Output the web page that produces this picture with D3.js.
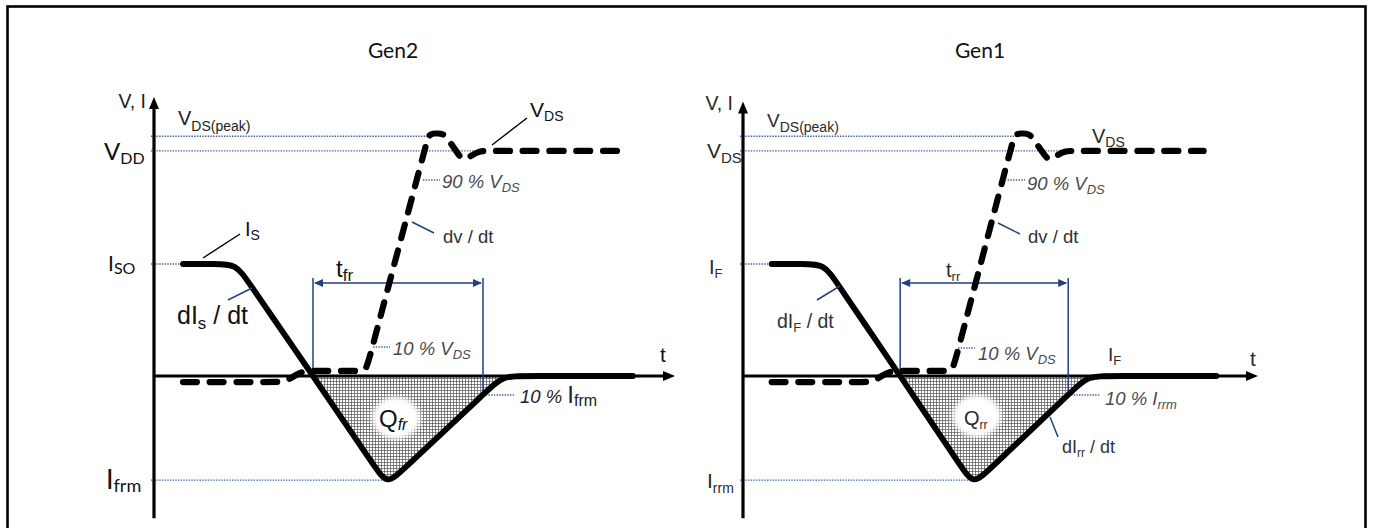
<!DOCTYPE html>
<html><head><meta charset="utf-8">
<script src="https://cdn.jsdelivr.net/npm/d3@7"></script>
<style>body{margin:0;background:#fff}svg{display:block}</style>
</head><body><svg id="c" width="1373" height="528"></svg>
<script>
// ---------------- data (normalised units: time t, level where I_SO / I_F = 1) ----------------
const panelNames = ["Gen2", "Gen1"];
const currentT = [2.9, 8.2, 15.9, 23.3, 34.9, 47.9];
const currentV = [1, 1, 0, -0.97, 0, 0];
const voltageT = [2.9, 13.0, 14.9, 21.2, 27.5, 29.0, 30.9, 32.5, 46.6];
const voltageV = [-0.054, -0.054, 0.045, 0.045, 2.165, 2.165, 1.92, 2.01, 2.01];
const levelValues = [2.14, 2.01, 1, -0.93];          // V_DS(peak), V_DD, I_SO, I_frm
const levelEndT = [27.9, 32.5, 2.9, 23.3];
const recoveryT = [15.9, 32.9];                      // t_fr / t_rr window
const tenPctLevel = -0.17;                           // 10 % I_frm point
const markerLevel = 0.83;                            // level of the t_fr arrow
const axisTop = [2.49, 2.45];
const axisBottom = -1.27;
const timeMax = 52.1;

// ---------------- setup ----------------
const svg = d3.select("#c");
const defs = svg.append("defs");
const pat = defs.append("pattern").attr("id", "hatch").attr("patternUnits", "userSpaceOnUse")
  .attr("width", 3).attr("height", 3);
pat.append("rect").attr("width", 3).attr("height", 3).attr("fill", "#fff");
pat.append("path").attr("d", "M0 0.4H3M0.4 0V3").attr("stroke", "#555").attr("stroke-width", 0.8);
const blur = defs.append("filter").attr("id", "soft").attr("x", "-50%").attr("y", "-50%").attr("width", "200%").attr("height", "200%");
blur.append("feGaussianBlur").attr("stdDeviation", 2.5);

svg.append("rect").attr("x", 7.5).attr("y", 6.5).attr("width", 1358).attr("height", 600)
  .attr("fill", "none").attr("stroke", "#000").attr("stroke-width", 2.6);

const ARIAL = "'Liberation Sans', Arial, sans-serif";
const CAL = "Lato, 'Open Sans', sans-serif";
const BLUE = "#223f7e";
const DOT = "#3f5e9e";

function txt(g, x, y, segs, o = {}) {
  const size = o.size || 18;
  const t = g.append("text").attr("x", x).attr("y", y)
    .attr("font-family", o.font || ARIAL).attr("font-size", size)
    .attr("fill", o.color || "#111").attr("text-anchor", o.anchor || "start");
  let shift = 0;
  segs.forEach(s => {
    if (typeof s === "string") s = { t: s };
    const target = s.s ? (o.subDy != null ? o.subDy : Math.round(size * 0.3)) : 0;
    const ts = t.append("tspan").text(s.t).attr("dy", target - shift)
      .attr("font-size", s.z || (s.s ? (o.subSize || Math.round(size * 0.68)) : size));
    const it = s.i != null ? s.i : o.italic;
    ts.attr("font-style", it ? "italic" : "normal");
    if (s.f) ts.attr("font-family", s.f);
    shift = target;
  });
  return t;
}
function seg(g, x1, y1, x2, y2, color, w, dash) {
  g.append("line").attr("x1", x1).attr("y1", y1).attr("x2", x2).attr("y2", y2)
    .attr("stroke", color).attr("stroke-width", w).attr("stroke-dasharray", dash || null);
}
function roundedPts(pts, r) {
  const out = [pts[0], pts[0]];
  for (let i = 1; i < pts.length - 1; i++) {
    const p = pts[i], a = pts[i - 1], b = pts[i + 1];
    const la = Math.hypot(p[0] - a[0], p[1] - a[1]), lb = Math.hypot(b[0] - p[0], b[1] - p[1]);
    const ra = Math.min(r, la / 2.05), rb = Math.min(r, lb / 2.05);
    out.push([p[0] + (a[0] - p[0]) * ra / la, p[1] + (a[1] - p[1]) * ra / la]);
    out.push(p);
    out.push([p[0] + (b[0] - p[0]) * rb / lb, p[1] + (b[1] - p[1]) * rb / lb]);
  }
  out.push(pts[pts.length - 1], pts[pts.length - 1]);
  return out;
}
const line = d3.line().curve(d3.curveBasis);

const panelRanges = [[154, 675], [743, 1258]];
const titleX = [393, 980];

panelNames.forEach((name, pi) => {
  const g = svg.append("g");
  const sx = d3.scaleLinear().domain([0, timeMax]).range(panelRanges[pi]);
  const sy = d3.scaleLinear().domain([0, 1]).range([376, 264]);
  const x0 = sx(0), y0 = sy(0);

  txt(g, titleX[pi], 58, [name], { font: CAL, size: 21, anchor: "middle", color: "#111" });

  // level guide lines
  levelValues.forEach((v, i) => {
    seg(g, x0 - 3, sy(v), sx(levelEndT[i]), sy(v), DOT, 1.4, "1.4 1.3");
  });

  // hatched Q area
  const cur = currentT.map((t, i) => [sx(t), sy(currentV[i])]);
  const curPts = roundedPts(cur, 21);
  const clipId = "clip" + pi;
  defs.append("clipPath").attr("id", clipId).append("rect")
    .attr("x", sx(recoveryT[0]) - 2).attr("y", y0 + 0.5).attr("width", sx(40) - sx(recoveryT[0])).attr("height", 150);
  g.append("path").attr("d", line(curPts)).attr("fill", "url(#hatch)").attr("stroke", "none")
    .attr("clip-path", `url(#${clipId})`);

  // axes
  seg(g, x0, sy(axisBottom), x0, sy(axisTop[pi]) + 8, "#000", 3.2);
  g.append("path").attr("d", d3.line()([[x0, sy(axisTop[pi])], [x0 - 5, sy(axisTop[pi]) + 12], [x0 + 5, sy(axisTop[pi]) + 12]]) + "Z").attr("fill", "#000");
  seg(g, x0, y0, sx(timeMax) - 8, y0, "#000", 3);
  g.append("path").attr("d", d3.line()([[sx(timeMax), y0], [sx(timeMax) - 12, y0 - 5], [sx(timeMax) - 12, y0 + 5]]) + "Z").attr("fill", "#000");

  // recovery window marker
  const xa = sx(recoveryT[0]), xb = sx(recoveryT[1]), ym = sy(markerLevel);
  seg(g, xa, sy(0.875), xa, y0, BLUE, 1.5);
  seg(g, xb, sy(0.875), xb, sy(tenPctLevel), BLUE, 1.5);
  seg(g, xa + 2, ym, xb - 2, ym, BLUE, 1.5);
  g.append("path").attr("d", d3.line()([[xa + 1, ym], [xa + 10, ym - 4], [xa + 10, ym + 4]]) + "Z").attr("fill", BLUE);
  g.append("path").attr("d", d3.line()([[xb - 1, ym], [xb - 10, ym - 4], [xb - 10, ym + 4]]) + "Z").attr("fill", BLUE);
  seg(g, xb, sy(tenPctLevel), xb + 31, sy(tenPctLevel), DOT, 1.4, "1.4 1.3");

  // Q blob
  const qc = pi === 0 ? [396, 418] : [977, 416];
  g.append("ellipse").attr("cx", qc[0]).attr("cy", qc[1]).attr("rx", 24).attr("ry", 21)
    .attr("fill", "#fff").attr("filter", "url(#soft)");

  // voltage (dashed)
  const vol = voltageT.map((t, i) => [sx(t), sy(voltageV[i])]);
  g.append("path").attr("d", line(roundedPts(vol, 11))).attr("fill", "none").attr("stroke", "#000")
    .attr("stroke-width", 6.2).attr("stroke-linecap", "round").attr("stroke-dasharray", "14 12.7");

  // current (solid)
  g.append("path").attr("d", line(curPts)).attr("fill", "none").attr("stroke", "#000")
    .attr("stroke-width", 5.8).attr("stroke-linecap", "round").attr("stroke-linejoin", "round");

  const G = "#4a4a4a";
  if (pi === 0) {
    txt(g, 146, 108, ["V, I"], { size: 19.5, anchor: "end", color: "#222" });
    txt(g, 178, 125, ["V", { t: "DS(peak)", s: 1 }], { size: 20, subSize: 14, subDy: 6, color: "#222" });
    txt(g, 104, 160, ["V", { t: "DD", s: 1 }], { font: CAL, size: 24, subSize: 16, subDy: 4 });
    txt(g, 108, 271, ["I", { t: "SO", s: 1 }], { font: CAL, size: 21, subSize: 16, subDy: 3 });
    txt(g, 106, 489, ["I", { t: "frm", s: 1 }], { font: CAL, size: 27, subSize: 18, subDy: 3 });
    txt(g, 245, 236, ["I", { t: "S", s: 1 }], { size: 20, subSize: 14, subDy: 4 });
    seg(g, 203, 258, 240, 234, "#000", 1.4);
    txt(g, 177, 324, ["dI", { t: "s", s: 1 }, " / dt"], { size: 25, subSize: 17, subDy: 5 });
    seg(g, 228, 300, 252, 288, BLUE, 1.5);
    txt(g, 336, 277, ["t", { t: "fr", s: 1 }], { size: 24, subSize: 17, subDy: 4 });
    txt(g, 442, 188, ["90 % V", { t: "DS", s: 1 }], { size: 18.5, subSize: 13, subDy: 4, italic: true, color: G });
    seg(g, 423, 180, 440, 180, DOT, 1.4, "1.4 1.3");
    txt(g, 443, 243, ["dv / dt"], { size: 18.5, color: "#333" });
    seg(g, 412, 222, 434, 233, BLUE, 1.5);
    txt(g, 530, 117, ["V", { t: "DS", s: 1 }], { size: 21, subSize: 14, subDy: 4 });
    seg(g, 492, 145, 527, 118, "#000", 1.4);
    txt(g, 393, 355, ["10 % V", { t: "DS", s: 1 }], { size: 18.5, subSize: 13, subDy: 4, italic: true, color: G });
    seg(g, 373, 347, 390, 347, DOT, 1.4, "1.4 1.3");
    txt(g, 660, 362, ["t"], { size: 21 });
    txt(g, 520, 403, [{ t: "10 % ", i: true, z: 18.5 }, { t: "I", i: false, z: 24 }, { t: "frm", s: 1, i: false }],
      { size: 18.5, subSize: 16, subDy: 3, color: "#222" });
    txt(g, 379, 427, ["Q", { t: "fr", s: 1, i: true }], { size: 24, subSize: 16, subDy: 3 });
  } else {
    const C = "#2a2a2a";
    txt(g, 733, 110, ["V, I"], { size: 19.5, anchor: "end", color: C });
    txt(g, 767, 127, ["V", { t: "DS(peak)", s: 1 }], { size: 19, subSize: 14, subDy: 5, color: C });
    txt(g, 707, 158, ["V", { t: "DS", s: 1 }], { size: 21, subSize: 15, subDy: 5, color: C });
    txt(g, 709, 274, ["I", { t: "F", s: 1 }], { size: 20, subSize: 13, subDy: 4, color: C });
    txt(g, 707, 488, ["I", { t: "rrm", s: 1 }], { size: 21, subSize: 14, subDy: 5, color: C });
    txt(g, 777, 328, ["dI", { t: "F", s: 1 }, " / dt"], { size: 19.5, subSize: 13, subDy: 4, color: "#333" });
    seg(g, 817, 300, 840, 286, BLUE, 1.5);
    txt(g, 946, 277, ["t", { t: "rr", s: 1 }], { size: 20, subSize: 13, subDy: 4, color: C });
    txt(g, 1027, 190, ["90 % V", { t: "DS", s: 1 }], { size: 18.5, subSize: 13, subDy: 4, italic: true, color: G });
    seg(g, 1005, 180, 1025, 180, DOT, 1.4, "1.4 1.3");
    txt(g, 1028, 243, ["dv / dt"], { size: 18.5, color: "#333" });
    seg(g, 998, 223, 1020, 234, BLUE, 1.5);
    txt(g, 1092, 143, ["V", { t: "DS", s: 1 }], { size: 20, subSize: 14, subDy: 4, color: C });
    txt(g, 978, 360, ["10 % V", { t: "DS", s: 1 }], { size: 18.5, subSize: 13, subDy: 4, italic: true, color: G });
    seg(g, 958, 348, 975, 348, DOT, 1.4, "1.4 1.3");
    txt(g, 1108, 361, ["I", { t: "F", s: 1 }], { size: 19, subSize: 13, subDy: 4, color: C });
    txt(g, 1250, 366, ["t"], { size: 21, color: C });
    txt(g, 1105, 405, ["10 % I", { t: "rrm", s: 1 }], { size: 18.5, subSize: 13, subDy: 4, italic: true, color: G });
    txt(g, 1062, 453, ["dI", { t: "rr", s: 1 }, " / dt"], { size: 18, subSize: 12, subDy: 4, color: "#333" });
    seg(g, 1050, 417, 1058, 437, BLUE, 1.5);
    txt(g, 964, 425, ["Q", { t: "rr", s: 1 }], { size: 20, subSize: 12, subDy: 4, color: C });
  }
});
</script></body></html>
